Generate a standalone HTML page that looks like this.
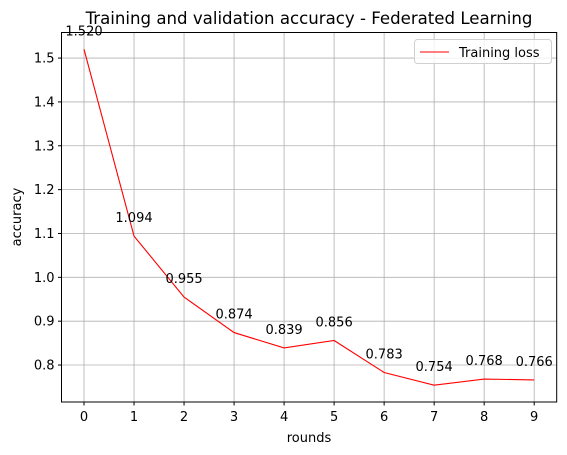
<!DOCTYPE html>
<html><head><meta charset="utf-8"><style>body{margin:0;background:#fff}svg{display:block;font-family:"DejaVu Sans","Liberation Sans",sans-serif}</style></head>
<body>
<svg id="chart" width="567" height="455" viewBox="0 0 567 455" xmlns="http://www.w3.org/2000/svg">
<rect x="0" y="0" width="567" height="455" fill="#fff"/>
<g id="grid"></g>
<g id="ticks" font-size="13" fill="#000"></g>
<polyline id="line" fill="none" stroke="#ff0000" stroke-width="1.1"/>
<g id="labels" font-size="13" fill="#000" text-anchor="middle"></g>
<rect x="61.5" y="32.5" width="495.2" height="369.5" fill="none" stroke="#000" stroke-width="1"/>
<text x="309" y="24" font-size="16.6" text-anchor="middle">Training and validation accuracy - Federated Learning</text>
<text x="309" y="442" font-size="13" text-anchor="middle">rounds</text>
<text transform="translate(21,217) rotate(-90)" font-size="13" text-anchor="middle">accuracy</text>
<g>
<rect x="414.5" y="39.5" width="137" height="24" rx="3" fill="#fff" fill-opacity="0.8" stroke="#d0d0d0"/>
<line x1="420" y1="52" x2="449" y2="52" stroke="#ff0000" stroke-width="1.1"/>
<text x="459" y="57" font-size="13">Training loss</text>
</g>
</svg>
<script>
const rounds=[0,1,2,3,4,5,6,7,8,9];
const accuracy=[1.520,1.094,0.955,0.874,0.839,0.856,0.783,0.754,0.768,0.766];
const yTicks=[0.8,0.9,1.0,1.1,1.2,1.3,1.4,1.5];
const xTicks=[0,1,2,3,4,5,6,7,8,9];
const NS='http://www.w3.org/2000/svg';
const X0=61.5,X1=556.7,Y0=402,Y1=32.5;
const xmin=-0.45,xmax=9.45;
const dmin=Math.min(...accuracy),dmax=Math.max(...accuracy),m=(dmax-dmin)*0.05;
const ymin=dmin-m,ymax=dmax+m;
const sx=v=>X0+(v-xmin)/(xmax-xmin)*(X1-X0);
const sy=v=>Y0-(v-ymin)/(ymax-ymin)*(Y0-Y1);
const grid=document.getElementById('grid'),ticks=document.getElementById('ticks'),labels=document.getElementById('labels');
function mk(t,a,p){const e=document.createElementNS(NS,t);for(const k in a)e.setAttribute(k,a[k]);p.appendChild(e);return e;}
xTicks.forEach(v=>{const x=sx(v);
const g=mk('line',{x1:x,x2:x,y1:Y1,y2:Y0,stroke:'#b0b0b0','stroke-width':0.8},grid);


const t=mk('line',{x1:x,x2:x,y1:Y0,y2:Y0+3.5,stroke:'#000'},ticks);


const l=mk('text',{x:x,y:Y0+19,'text-anchor':'middle'},ticks);l.textContent=v;

});
yTicks.forEach(v=>{const y=sy(v);
const g=mk('line',{x1:X0,x2:X1,y1:y,y2:y,stroke:'#b0b0b0','stroke-width':0.8},grid);


const t=mk('line',{x1:X0-3.5,x2:X0,y1:y,y2:y,stroke:'#000'},ticks);


const l=mk('text',{x:X0-7,y:y+4.5,'text-anchor':'end'},ticks);l.textContent=v.toFixed(1);

});
document.getElementById('line').setAttribute('points',rounds.map((r,i)=>sx(r)+','+sy(accuracy[i])).join(' '));
rounds.forEach((r,i)=>{const l=mk('text',{x:sx(r),y:sy(accuracy[i])-14},labels);l.textContent=accuracy[i].toFixed(3);

});
</script>
</body></html>
